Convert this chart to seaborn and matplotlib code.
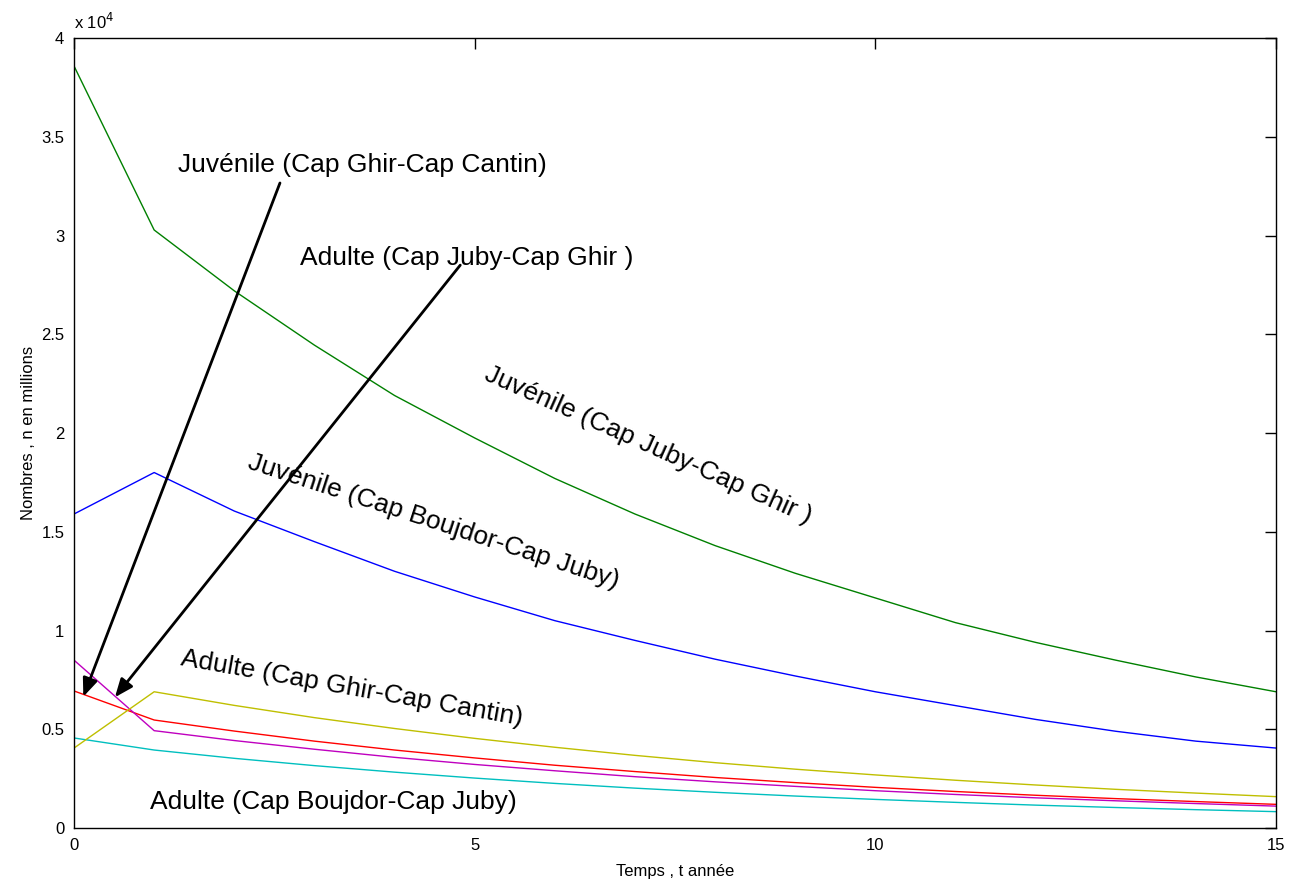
import matplotlib
matplotlib.use("Agg")
import matplotlib.pyplot as plt
import seaborn as sns
import pandas as pd
from matplotlib.ticker import FuncFormatter

# years
years = list(range(16))

# numbers (millions)
juv_juby_ghir = [38580, 30280, 27200, 24450, 21900, 19750, 17700, 15900,
                 14300, 12900, 11650, 10400, 9400, 8500, 7650, 6900]
juv_boujdor_juby = [15900, 18000, 16050, 14500, 13000, 11700, 10500, 9500,
                    8550, 7700, 6900, 6200, 5500, 4900, 4400, 4050]
juv_ghir_cantin = [6940, 5470, 4910, 4400, 3950, 3550, 3180, 2860,
                   2560, 2300, 2060, 1850, 1660, 1490, 1340, 1200]
ad_boujdor_juby = [4560, 3950, 3530, 3160, 2830, 2530, 2260, 2020,
                   1810, 1620, 1450, 1300, 1160, 1040, 930, 830]
ad_juby_ghir = [8500, 4930, 4430, 3990, 3580, 3220, 2900, 2600,
                2340, 2110, 1890, 1700, 1530, 1380, 1240, 1110]
ad_ghir_cantin = [4050, 6900, 6210, 5590, 5040, 4540, 4090, 3680,
                  3310, 2980, 2690, 2420, 2180, 1960, 1770, 1590]

series = {
    "juv_boujdor_juby": (juv_boujdor_juby, (0, 0, 1)),
    "juv_juby_ghir": (juv_juby_ghir, (0, 0.5, 0)),
    "juv_ghir_cantin": (juv_ghir_cantin, (1, 0, 0)),
    "ad_boujdor_juby": (ad_boujdor_juby, (0, 0.75, 0.75)),
    "ad_juby_ghir": (ad_juby_ghir, (0.75, 0, 0.75)),
    "ad_ghir_cantin": (ad_ghir_cantin, (0.75, 0.75, 0)),
}

sns.set_style("white")
plt.rcParams["font.family"] = ["Liberation Sans", "DejaVu Sans"]
plt.rcParams["text.color"] = "black"
plt.rcParams["axes.labelcolor"] = "black"

fig = plt.figure(figsize=(12.92, 8.84), dpi=100)
ax = fig.add_axes([0.0573, 0.0633, 0.9303, 0.8937])

for name, (vals, col) in series.items():
    df = pd.DataFrame({"t": years, "n": vals})
    sns.lineplot(data=df, x="t", y="n", color=col, linewidth=1.0, ax=ax)

ax.set_xlim(0, 15)
ax.set_ylim(0, 40000)
ax.set_xticks([0, 5, 10, 15])
ax.set_yticks([0, 5000, 10000, 15000, 20000, 25000, 30000, 35000, 40000])
ax.yaxis.set_major_formatter(FuncFormatter(lambda v, p: "%g" % (v / 1e4)))
ax.tick_params(direction="in", length=8, width=1, labelsize=12,
               top=True, right=True, colors="black", pad=7)
for s in ax.spines.values():
    s.set_visible(True)
    s.set_color("black")
    s.set_linewidth(1)
ax.set_xlabel("Temps , t année", fontsize=12, labelpad=8)
ax.set_ylabel("Nombres , n en millions", fontsize=12, labelpad=4)
ax.text(0.0, 1.008, "x 10$^4$", transform=ax.transAxes, fontsize=12,
        ha="left", va="bottom")

# labels
fs = 19
ax.text(1.30, 33570, "Juvénile (Cap Ghir-Cap Cantin)", fontsize=fs, ha="left", va="center")
ax.text(2.82, 28860, "Adulte (Cap Juby-Cap Ghir )", fontsize=fs, ha="left", va="center")
ax.text(7.16, 19390, "Juvénile (Cap Juby-Cap Ghir )", fontsize=fs, ha="center", va="center",
        rotation=-24, rotation_mode="anchor")
ax.text(4.49, 15490, "Juvénile (Cap Boujdor-Cap Juby)", fontsize=fs, ha="center", va="center",
        rotation=-18, rotation_mode="anchor")
ax.text(3.47, 7090, "Adulte (Cap Ghir-Cap Cantin)", fontsize=fs, ha="center", va="center",
        rotation=-10, rotation_mode="anchor")
ax.text(0.95, 1320, "Adulte (Cap Boujdor-Cap Juby)", fontsize=fs, ha="left", va="center")

arrow = dict(arrowstyle="-|>,head_length=1.1,head_width=0.45", color="black", lw=2,
             shrinkA=0, shrinkB=0)
ax.annotate("", xy=(0.116, 6650), xytext=(2.57, 32660), arrowprops=arrow)
ax.annotate("", xy=(0.51, 6620), xytext=(4.82, 28500), arrowprops=arrow)

fig.savefig("out.png", dpi=100, facecolor="white")
